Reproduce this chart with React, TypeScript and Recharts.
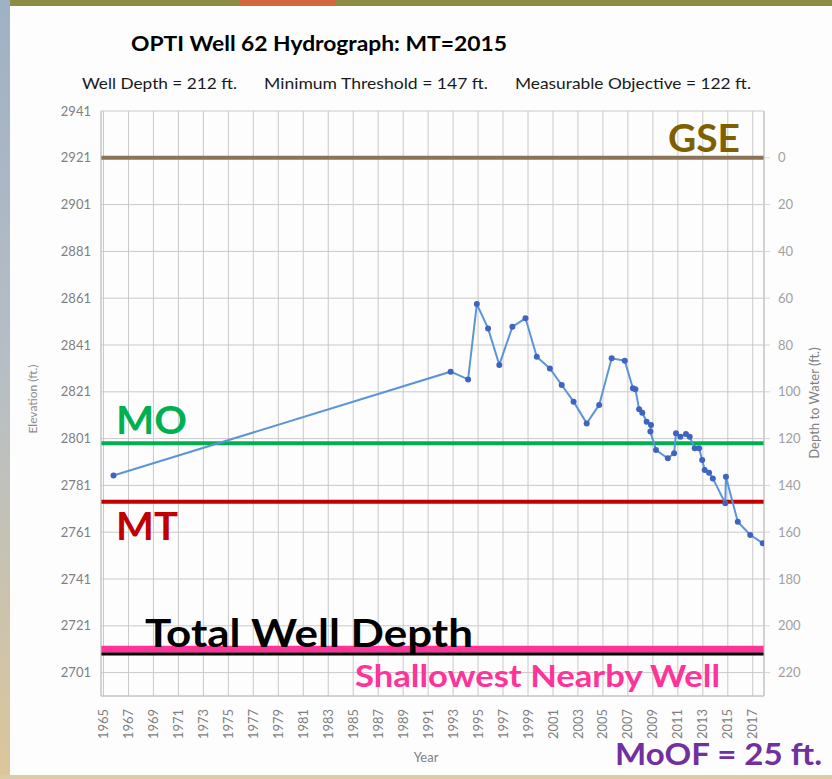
import {
  ComposedChart,
  Line,
  XAxis,
  YAxis,
  CartesianGrid,
  ReferenceLine,
} from 'recharts';

// measurement dates (decimal years) and water level elevations (ft.)
const years = [
  1965.8, 1992.8, 1994.2, 1994.9, 1995.8, 1996.7, 1997.75, 1998.8, 1999.7, 2000.75,
  2001.7, 2002.65, 2003.7, 2004.7, 2005.7, 2006.75, 2007.4, 2007.6, 2007.9, 2008.15,
  2008.5, 2008.85, 2008.8, 2009.25, 2010.2, 2010.7, 2010.85, 2011.2, 2011.65, 2011.95,
  2012.35, 2012.7, 2012.95, 2013.15, 2013.5, 2013.8, 2014.8, 2014.85, 2015.8, 2016.8,
  2017.8,
];
const elevations = [
  2785.2, 2829.6, 2826.3, 2858.5, 2848.1, 2832.5, 2848.8, 2852.4, 2836.0, 2831.0,
  2823.9, 2816.8, 2807.5, 2815.4, 2835.3, 2834.3, 2822.5, 2822.1, 2813.5, 2812.1,
  2808.2, 2806.8, 2804.0, 2796.1, 2792.6, 2794.7, 2803.3, 2801.8, 2803.0, 2801.8,
  2796.9, 2796.9, 2791.9, 2787.6, 2786.4, 2784.0, 2773.4, 2784.7, 2765.5, 2759.8,
  2756.3,
];

// reference levels (elevation, ft.)
const GSE = 2921;
const MO = 2799;
const MT = 2774;
const WELL_BOTTOM = 2709;
const SHALLOW_WELL = 2711;

const yearTicks = [
  1965, 1967, 1969, 1971, 1973, 1975, 1977, 1979, 1981, 1983, 1985, 1987, 1989, 1991,
  1993, 1995, 1997, 1999, 2001, 2003, 2005, 2007, 2009, 2011, 2013, 2015, 2017,
];
const elevTicks = [2701, 2721, 2741, 2761, 2781, 2801, 2821, 2841, 2861, 2881, 2901, 2921, 2941];
const depthTicks = [0, 20, 40, 60, 80, 100, 120, 140, 160, 180, 200, 220];

const data = years.map((year, i) => ({
  year,
  elev: elevations[i],
  depth: GSE - elevations[i],
}));

const FONT = 'Lato, "Open Sans", sans-serif';

const YearTick = ({ x, y, payload }: any) => (
  <text
    x={x}
    y={y + 11}
    transform={`rotate(-90, ${x}, ${y + 11})`}
    textAnchor="end"
    dy="0.35em"
    fill="#7f7f7f"
    fontSize={13}
    fontFamily={FONT}
    textLength={30}
    lengthAdjust="spacingAndGlyphs"
  >
    {payload.value}
  </text>
);

export default function App() {
  return (
    <div
      style={{
        position: 'absolute',
        top: 0,
        left: 0,
        width: 832,
        height: 779,
        background: '#fdfdfd',
        overflow: 'hidden',
      }}
    >
      {/* slide decoration */}
      <div style={{ position: 'absolute', top: 0, left: 0, width: 832, height: 6, background: '#8c8c42' }} />
      <div style={{ position: 'absolute', top: 0, left: 240, width: 95, height: 5, background: '#d0683c' }} />
      <div
        style={{
          position: 'absolute',
          top: 0,
          left: 0,
          width: 10,
          height: 779,
          background: 'linear-gradient(#9fb1c4, #b7bfc4 50%, #dcc69a)',
        }}
      />
      <div style={{ position: 'absolute', top: 775, left: 0, width: 832, height: 4, background: '#dccba3' }} />

      <div style={{ position: 'absolute', top: 0, left: 0 }}>
        <ComposedChart
          width={832}
          height={779}
          data={data}
          margin={{ top: 111, right: 0, bottom: 0, left: 0 }}
        >
          <CartesianGrid yAxisId="left" stroke="#c9c9c9" strokeWidth={1} />
          <XAxis
            dataKey="year"
            type="number"
            domain={[1964.8, 2017.9]}
            ticks={yearTicks}
            allowDataOverflow
            height={83}
            tickSize={0}
            tickLine={false}
            axisLine={{ stroke: '#c2c2c2' }}
            tick={<YearTick />}
            interval={0}
          />
          <YAxis
            yAxisId="left"
            type="number"
            domain={[2691, 2941]}
            ticks={elevTicks}
            allowDataOverflow
            width={101}
            tickSize={0}
            tickMargin={10}
            tickLine={false}
            axisLine={{ stroke: '#c2c2c2' }}
            tick={{ fill: '#7f7f7f', fontSize: 13, fontFamily: FONT }}
            interval={0}
          />
          <YAxis
            yAxisId="right"
            orientation="right"
            type="number"
            reversed
            domain={[-20, 230]}
            ticks={depthTicks}
            allowDataOverflow
            width={68}
            tickSize={6}
            tickMargin={8}
            tickLine={{ stroke: '#d6d6d6' }}
            axisLine={{ stroke: '#c2c2c2' }}
            tick={{ fill: '#a0a0a0', fontSize: 13, fontFamily: FONT, textAnchor: 'start' }}
            interval={0}
          />

          <ReferenceLine yAxisId="left" y={GSE} stroke="#8c7356" strokeWidth={4} />
          <ReferenceLine yAxisId="left" y={MO} stroke="#00b050" strokeWidth={4} />
          <ReferenceLine yAxisId="left" y={MT} stroke="#c00000" strokeWidth={4} />
          <ReferenceLine yAxisId="left" y={SHALLOW_WELL} stroke="#ff3399" strokeWidth={7} />
          <ReferenceLine yAxisId="left" y={WELL_BOTTOM} stroke="#000000" strokeWidth={3} />

          <Line
            yAxisId="right"
            dataKey="depth"
            stroke="none"
            dot={false}
            activeDot={false}
            legendType="none"
            isAnimationActive={false}
          />
          <Line
            yAxisId="left"
            type="linear"
            dataKey="elev"
            stroke="#5b95d8"
            strokeWidth={2}
            dot={{ r: 3, fill: '#3f63c0', stroke: 'none' }}
            activeDot={false}
            isAnimationActive={false}
          />
        </ComposedChart>
      </div>

      {/* titles and annotations */}
      <svg
        width={832}
        height={779}
        style={{ position: 'absolute', top: 0, left: 0, pointerEvents: 'none' }}
        fontFamily={FONT}
      >
        <text x={131} y={51} fontSize={21} fontWeight="bold" fill="#000" textLength={376} lengthAdjust="spacingAndGlyphs">
          OPTI Well 62 Hydrograph: MT=2015
        </text>
        <text x={82} y={89} fontSize={15} fill="#1a1a1a" textLength={155} lengthAdjust="spacingAndGlyphs">
          Well Depth = 212 ft.
        </text>
        <text x={264} y={89} fontSize={15} fill="#1a1a1a" textLength={224} lengthAdjust="spacingAndGlyphs">
          Minimum Threshold = 147 ft.
        </text>
        <text x={515} y={89} fontSize={15} fill="#1a1a1a" textLength={236} lengthAdjust="spacingAndGlyphs">
          Measurable Objective = 122 ft.
        </text>

        <text x={668} y={152} fontSize={38} fontWeight="bold" fill="#7f6000" textLength={72} lengthAdjust="spacingAndGlyphs">
          GSE
        </text>
        <text x={116} y={434} fontSize={39} fontWeight="bold" fill="#00b050" textLength={71} lengthAdjust="spacingAndGlyphs">
          MO
        </text>
        <text x={116} y={540} fontSize={39} fontWeight="bold" fill="#c00000" textLength={62} lengthAdjust="spacingAndGlyphs">
          MT
        </text>
        <text x={145} y={647} fontSize={39} fontWeight="bold" fill="#000" textLength={328} lengthAdjust="spacingAndGlyphs">
          Total Well Depth
        </text>
        <text x={355} y={687} fontSize={30} fontWeight="bold" fill="#ff3399" textLength={365} lengthAdjust="spacingAndGlyphs">
          Shallowest Nearby Well
        </text>
        <text x={615} y={765} fontSize={30} fontWeight="bold" fill="#7030a0" textLength={207} lengthAdjust="spacingAndGlyphs">
          MoOF = 25 ft.
        </text>

        <text x={426} y={762} fontSize={13} fill="#808080" textAnchor="middle">
          Year
        </text>
        <text x={37} y={399} fontSize={12} fill="#8c8c8c" textAnchor="middle" transform="rotate(-90, 37, 399)">
          Elevation (ft.)
        </text>
        <text x={819} y={403} fontSize={13} fill="#808080" textAnchor="middle" transform="rotate(-90, 819, 403)">
          Depth to Water (ft.)
        </text>
      </svg>
    </div>
  );
}
